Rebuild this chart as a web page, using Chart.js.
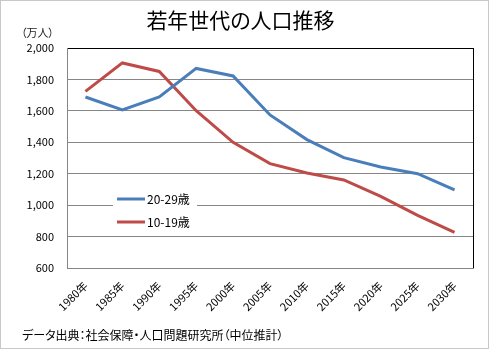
<!DOCTYPE html>
<html>
<head>
<meta charset="utf-8">
<script src="https://cdn.jsdelivr.net/npm/chart.js@4"></script>
<style>
  html, body { margin: 0; padding: 0; background: #fff; }
  #wrap { position: relative; width: 490px; height: 350px; font-family: 'Noto Sans CJK JP', sans-serif; font-feature-settings: "palt"; }
  #frame { position: absolute; left: 0; top: 0; width: 487px; height: 347px; border: 1px solid #c8c8c8; pointer-events: none; }
  #title { position: absolute; left: 0; width: 481px; top: 4px; text-align: center; font-size: 21px; color: #000; }
  #unit { position: absolute; left: 21px; top: 24px; font-size: 11px; color: #222; }
  #source { position: absolute; left: 22px; top: 326px; font-size: 12px; color: #000; }
  canvas { position: absolute; left: 0; top: 0; }
</style>
</head>
<body>
<div id="wrap">
  <canvas id="chart" width="490" height="350"></canvas>
  <div id="title">若年世代の人口推移</div>
  <div id="unit">（万人）</div>
  <div id="source">データ出典：社会保障・人口問題研究所（中位推計）</div>
  <div id="frame"></div>
</div>
<script>
// data
const years = ['1980年', '1985年', '1990年', '1995年', '2000年', '2005年', '2010年', '2015年', '2020年', '2025年', '2030年'];
const age20to29 = [1688, 1606, 1688, 1870, 1822, 1574, 1417, 1302, 1243, 1200, 1097];
const age10to19 = [1724, 1905, 1851, 1601, 1400, 1264, 1205, 1160, 1056, 935, 827];
const seriesNames = ['20-29歳', '10-19歳'];

Chart.defaults.font.family = "'Noto Sans CJK JP', sans-serif";
Chart.defaults.color = '#000';

// legend sits inside the plot on a white box (covers the 1,000 gridline)
const boxLegend = {
  id: 'boxLegend',
  beforeDatasetsDraw(chart) {
    const ctx = chart.ctx;
    ctx.save();
    ctx.fillStyle = '#fff';
    ctx.fillRect(113, 188, 84, 46);
    chart.data.datasets.forEach((ds, i) => {
      const y = 199 + i * 23;
      ctx.strokeStyle = ds.borderColor;
      ctx.lineWidth = 3;
      ctx.beginPath();
      ctx.moveTo(117, y);
      ctx.lineTo(145, y);
      ctx.stroke();
      ctx.fillStyle = '#000';
      ctx.font = "12px 'Noto Sans CJK JP', sans-serif";
      ctx.textBaseline = 'middle';
      ctx.fillText(ds.label, 147, y);
    });
    ctx.restore();
  },
  afterDraw(chart) {
    // black right edge of the plot
    const a = chart.chartArea;
    const ctx = chart.ctx;
    ctx.save();
    ctx.strokeStyle = '#000';
    ctx.lineWidth = 1;
    ctx.beginPath();
    ctx.moveTo(Math.round(a.right) + 0.5, a.top);
    ctx.lineTo(Math.round(a.right) + 0.5, a.bottom);
    ctx.stroke();
    ctx.restore();
  }
};

new Chart(document.getElementById('chart'), {
  type: 'line',
  data: {
    labels: years,
    datasets: [
      { label: seriesNames[0], data: age20to29, borderColor: '#4a7ebb', borderWidth: 3, pointRadius: 0, tension: 0 },
      { label: seriesNames[1], data: age10to19, borderColor: '#be4b48', borderWidth: 3, pointRadius: 0, tension: 0 }
    ]
  },
  options: {
    responsive: false,
    devicePixelRatio: 1,
    animation: false,
    layout: { padding: { left: 0, right: 17, top: 48, bottom: 0 } },
    plugins: { legend: { display: false }, title: { display: false }, tooltip: { enabled: false } },
    scales: {
      x: {
        offset: true,
        grid: { drawOnChartArea: false, drawTicks: false },
        border: { color: '#868686' },
        ticks: { autoSkip: false, minRotation: 45, maxRotation: 45, padding: 11, font: { size: 11 } },
        afterFit(s) { s.height = 82; }
      },
      y: {
        min: 600,
        max: 2000,
        ticks: {
          stepSize: 200,
          padding: 13,
          font: { size: 11 },
          callback: v => v.toLocaleString('en-US')
        },
        grid: {
          drawTicks: false,
          color: c => c.tick && c.tick.value === 2000 ? '#000' : '#868686'
        },
        border: { color: '#868686' },
        afterFit(s) { s.width = 67; }
      }
    }
  },
  plugins: [boxLegend]
});
</script>
</body>
</html>
